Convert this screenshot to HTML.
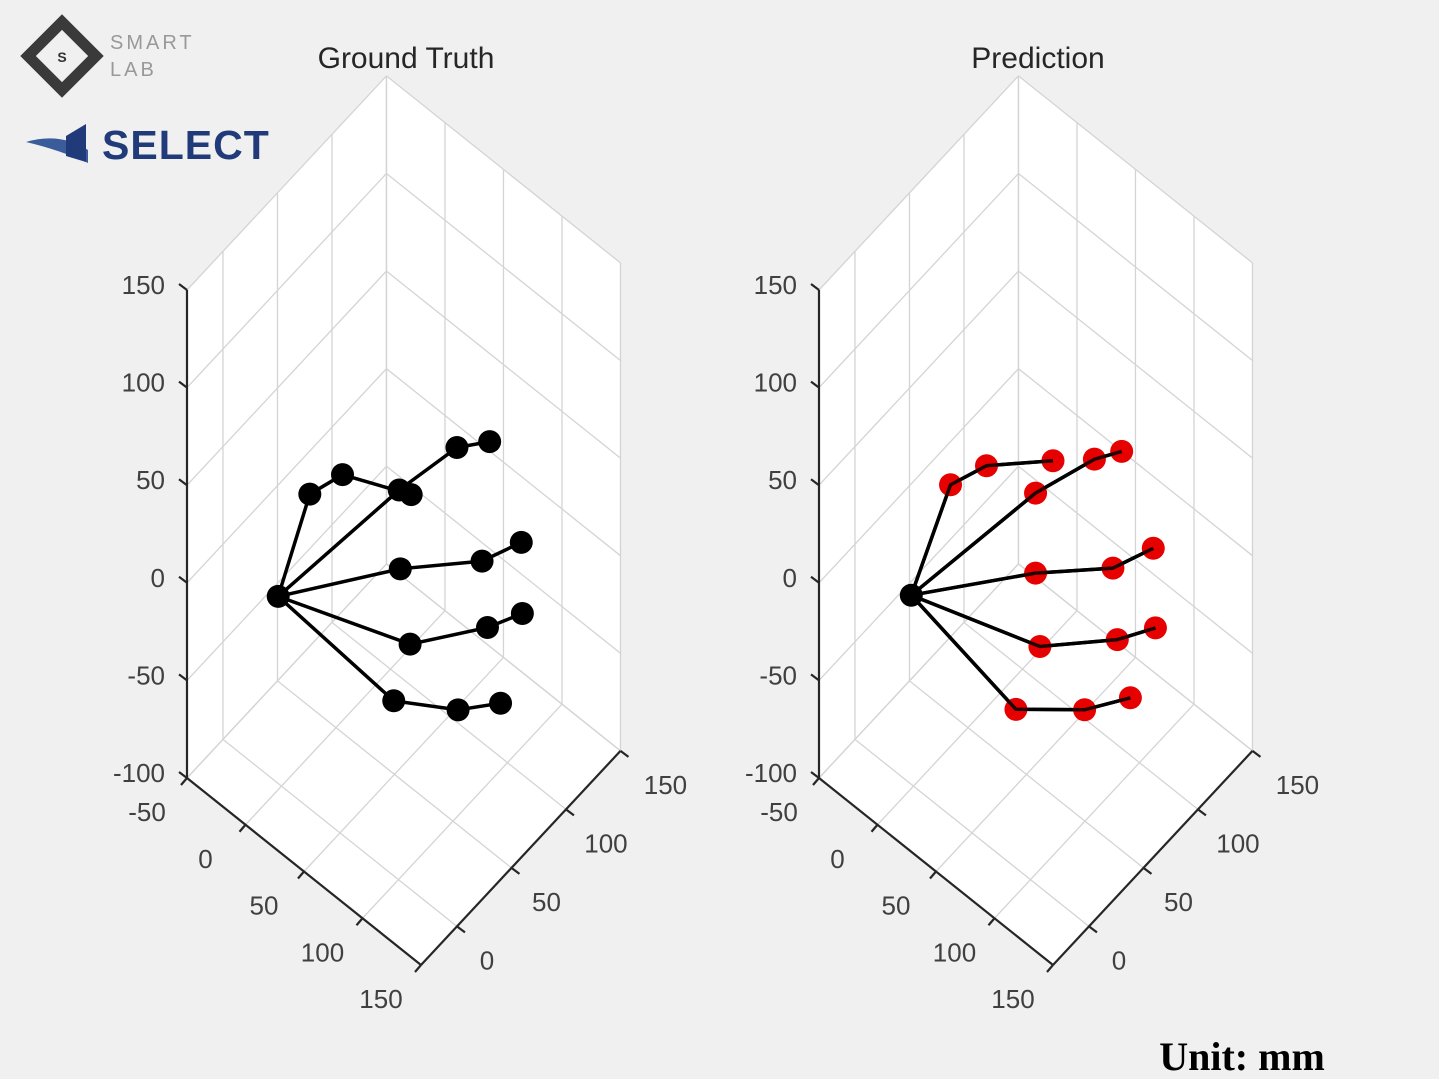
<!DOCTYPE html>
<html><head><meta charset="utf-8"><style>
html,body{margin:0;padding:0;background:#f0f0f0;}
svg{display:block;font-family:"Liberation Sans",sans-serif;}
</style></head><body>
<svg id="root" width="1439" height="1079" viewBox="0 0 1439 1079">
  <g>
    <g transform="translate(62,56) rotate(45)">
      <rect x="-24" y="-24" width="48" height="48" fill="none" stroke="#3a3a3a" stroke-width="11"/>
      <rect x="-10" y="-10" width="20" height="20" fill="#f0f0f0"/>
    </g>
    <text x="62" y="62" font-size="14" font-weight="bold" text-anchor="middle" fill="#333">S</text>
    <text x="110" y="49" font-size="20" fill="#999" letter-spacing="3">SMART</text>
    <text x="110" y="76" font-size="20" fill="#999" letter-spacing="3">LAB</text>
  </g>
  <g>
    <path d="M26 142 Q60 132 88 150 L88 163 Q60 150 26 142 Z" fill="#3a5c9a"/>
    <path d="M66 136 L86 124 L86 162 L66 156 Z" fill="#213a7a"/>
    <text x="102" y="159" font-size="41" font-weight="bold" fill="#213a7a" letter-spacing="1">SELECT</text>
  </g>
  <text x="406" y="68" font-size="30" text-anchor="middle" fill="#262626">Ground Truth</text>
  <text x="1038" y="68" font-size="30" text-anchor="middle" fill="#262626">Prediction</text>
  <text x="1242" y="1070" font-size="40" font-weight="bold" text-anchor="middle" fill="#000" font-family="Liberation Serif, serif">Unit: mm</text>
</svg>
<script>
// joint data: index 0 = wrist, then 5 fingers x 3 joints
const jointX = [0, 0,0,0, 0,0,0, 0,0,0, 0,0,0, 0,0,0];
const truthY = [-3, 26,56,119, 108,161,191, 109,184,220, 118,189,221, 103,162,201];
const truthZ = [-1, 34,26,-22, -13,-23,-38, -54,-95,-107, -98,-132,-144, -118,-158,-178];
const predY = [-2, 34,67,128, 112,166,191, 112,183,220, 116,187,222, 94,157,199];
const predZ = [-1, 34,24,-10, -17,-32,-43, -58,-98,-110, -98,-137,-152, -117,-155,-174];
const xTicks = [-50, 0, 50, 100, 150];
const yTicks = [0, 50, 100, 150];
const zTicks = [-100, -50, 0, 50, 100, 150];
const xMin = -50, xMax = 150, yMin = -33, yMax = 150, zMin = -100, zMax = 150;

const NS = 'http://www.w3.org/2000/svg';
const root = document.getElementById('root');
function mk(tag, attrs, parent) {
  const e = document.createElementNS(NS, tag);
  for (const k in attrs) e.setAttribute(k, attrs[k]);
  parent.appendChild(e);
  return e;
}
function makeProj(dx) {
  return function (x, y, z) {
    const u = 187 + dx + (x - xMin) * 1.17 + (y - yMin) * 1.09;
    const v = 778 + (x - xMin) * 0.935 - (y - yMin) * 1.17 - (z - zMin) * 1.952;
    return [u, v];
  };
}
function pts(arr) { return arr.map(p => p[0].toFixed(1) + ',' + p[1].toFixed(1)).join(' '); }

function panel(dx, ys, zs, color, name) {
  const P = makeProj(dx);
  const g = mk('g', {}, root);
  
  
  const floor = mk('polygon', {points: pts([P(xMin,yMin,zMin), P(xMax,yMin,zMin), P(xMax,yMax,zMin), P(xMin,yMax,zMin)]), fill: '#fff'}, g);
  
  
  const lw = mk('polygon', {points: pts([P(xMin,yMin,zMin), P(xMin,yMax,zMin), P(xMin,yMax,zMax), P(xMin,yMin,zMax)]), fill: '#fff'}, g);
  
  
  const rw = mk('polygon', {points: pts([P(xMin,yMax,zMin), P(xMax,yMax,zMin), P(xMax,yMax,zMax), P(xMin,yMax,zMax)]), fill: '#fff'}, g);
  
  
  const grid = mk('g', {stroke: '#d4d4d4', 'stroke-width': 1.3, fill: 'none'}, g);
  
  
  const line = (a, b) => mk('line', {x1: a[0], y1: a[1], x2: b[0], y2: b[1]}, grid);
  xTicks.forEach(x => { line(P(x,yMin,zMin), P(x,yMax,zMin)); line(P(x,yMax,zMin), P(x,yMax,zMax)); });
  yTicks.concat([yMin]).forEach(y => { line(P(xMin,y,zMin), P(xMax,y,zMin)); line(P(xMin,y,zMin), P(xMin,y,zMax)); });
  zTicks.forEach(z => { line(P(xMin,yMin,z), P(xMin,yMax,z)); line(P(xMin,yMax,z), P(xMax,yMax,z)); });
  const ax = mk('g', {stroke: '#262626', 'stroke-width': 2.2, fill: 'none'}, g);
  
  
  const al = (a, b) => mk('line', {x1: a[0], y1: a[1], x2: b[0], y2: b[1]}, ax);
  al(P(xMin,yMin,zMin), P(xMax,yMin,zMin));
  al(P(xMax,yMin,zMin), P(xMax,yMax,zMin));
  al(P(xMin,yMin,zMin), P(xMin,yMin,zMax));
  const lab = mk('g', {'font-size': 26, fill: '#404040'}, g);
  
  
  xTicks.forEach(x => {
    const p = P(x, yMin, zMin);
    al(p, [p[0] - 6, p[1] + 7]);
    const t = mk('text', {x: p[0] - 40, y: p[1] + 43, 'text-anchor': 'middle'}, lab);
    
    
    t.textContent = x;
  });
  yTicks.forEach(y => {
    const p = P(xMax, y, zMin);
    al(p, [p[0] + 8, p[1] + 6]);
    const t = mk('text', {x: p[0] + 30 + y * 0.1, y: p[1] + 43, 'text-anchor': 'middle'}, lab);
    
    
    t.textContent = y;
  });
  zTicks.forEach(z => {
    const p = P(xMin, yMin, z);
    al(p, [p[0] - 8, p[1] - 6]);
    const t = mk('text', {x: p[0] - 22, y: p[1] + 4, 'text-anchor': 'end'}, lab);
    
    
    t.textContent = z;
  });
  const hand = mk('g', {}, g);
  
  
  const sp = ys.map((y, i) => P(jointX[i], y, zs[i]));
  for (let f = 0; f < 5; f++) {
    const chain = [sp[0], sp[1 + f * 3], sp[2 + f * 3], sp[3 + f * 3]];
    const pl = mk('polyline', {points: pts(chain), fill: 'none', stroke: '#000', 'stroke-width': 3.5}, hand);
    
    
  }
  sp.forEach((p, i) => {
    const c = mk('circle', {cx: p[0], cy: p[1], r: 11.5, fill: i === 0 ? '#000' : color}, hand);
    
    
  });
  if (color !== '#000') {
    for (let f = 0; f < 5; f++) {
      const chain = [sp[0], sp[1 + f * 3], sp[2 + f * 3], sp[3 + f * 3]];
      const pl = mk('polyline', {points: pts(chain), fill: 'none', stroke: '#000', 'stroke-width': 3.5, 'stroke-opacity': 0.85}, hand);
      
      
    }
  }
}
panel(0, truthY, truthZ, '#000', 'ground-truth');
panel(632, predY, predZ, '#e60000', 'prediction');
</script>
</body></html>
